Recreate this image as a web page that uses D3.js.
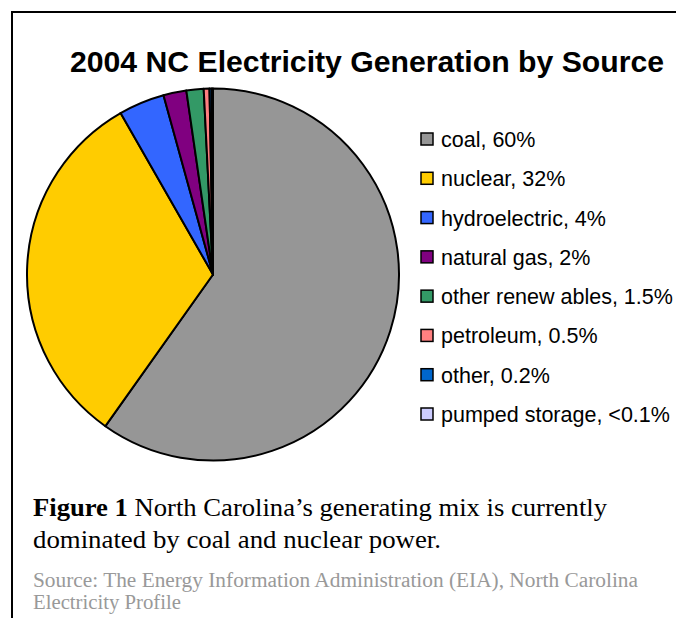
<!DOCTYPE html>
<html><head><meta charset="utf-8">
<script src="https://cdn.jsdelivr.net/npm/d3@7"></script>
<style>body{margin:0;background:#fff}svg{display:block}</style>
</head><body>
<svg id="c" width="676" height="618"></svg>
<script>
const categories = ["coal","nuclear","hydroelectric","natural gas","other renewables","petroleum","other","pumped storage"];
const values = [60, 32, 4, 2, 1.5, 0.5, 0.2, 0.1];
const legendLabels = ["coal, 60%","nuclear, 32%","hydroelectric, 4%","natural gas, 2%","other renew ables, 1.5%","petroleum, 0.5%","other, 0.2%","pumped storage, <0.1%"];
const colors = ["#969696","#FFCC00","#3366FF","#800080","#339966","#FF8080","#0066CC","#CCCCFF"];

const svg = d3.select("#c");
svg.append("path").attr("d","M12,620 L12,12 L680,12").attr("fill","none").attr("stroke","#000").attr("stroke-width",2);

svg.append("text").attr("x",70).attr("y",72)
  .attr("font-family","Liberation Sans, Arial, sans-serif").attr("font-weight","bold")
  .attr("font-size",30).attr("textLength",594).attr("lengthAdjust","spacingAndGlyphs")
  .text("2004 NC Electricity Generation by Source");

const color = d3.scaleOrdinal().domain(categories).range(colors);
const data = categories.map((c,i)=>({cat:c,value:values[i]}));
const pie = d3.pie().value(d=>d.value).sort(null);
const arc = d3.arc().innerRadius(0).outerRadius(186);
const g = svg.append("g").attr("transform","translate(213,274.5)");
g.selectAll("path").data(pie(data)).join("path")
  .attr("d",arc).attr("fill",d=>color(d.data.cat))
  .attr("stroke","#000").attr("stroke-width",2).attr("stroke-linejoin","round");

const y = d3.scalePoint().domain(categories).range([139,414]);
const lg = svg.append("g");
const rows = lg.selectAll("g").data(data).join("g").attr("transform",d=>`translate(0,${y(d.cat)})`);
rows.append("rect").attr("x",421).attr("y",-6).attr("width",12).attr("height",12)
  .attr("fill",d=>color(d.cat)).attr("stroke","#000").attr("stroke-width",1.5);
rows.append("text").attr("x",441).attr("y",8).attr("font-family","Liberation Sans, Arial, sans-serif")
  .attr("font-size",21.5).text((d,i)=>legendLabels[i]);

const cap = svg.append("g").attr("font-family","Liberation Serif, Times New Roman, serif").attr("font-size",26);
const t1 = cap.append("text").attr("x",33).attr("y",516).attr("textLength",574).attr("lengthAdjust","spacingAndGlyphs");
t1.append("tspan").attr("font-weight","bold").text("Figure 1");
t1.append("tspan").text(" North Carolina\u2019s generating mix is currently");
cap.append("text").attr("x",33).attr("y",548).attr("textLength",408).attr("lengthAdjust","spacingAndGlyphs").text("dominated by coal and nuclear power.");
const src = svg.append("g").attr("font-family","Liberation Serif, Times New Roman, serif").attr("font-size",20).attr("fill","#999");
src.append("text").attr("x",33).attr("y",587).attr("textLength",605).attr("lengthAdjust","spacingAndGlyphs").text("Source: The Energy Information Administration (EIA), North Carolina");
src.append("text").attr("x",33).attr("y",609).attr("textLength",148).attr("lengthAdjust","spacingAndGlyphs").text("Electricity Profile");
</script>
</body></html>
